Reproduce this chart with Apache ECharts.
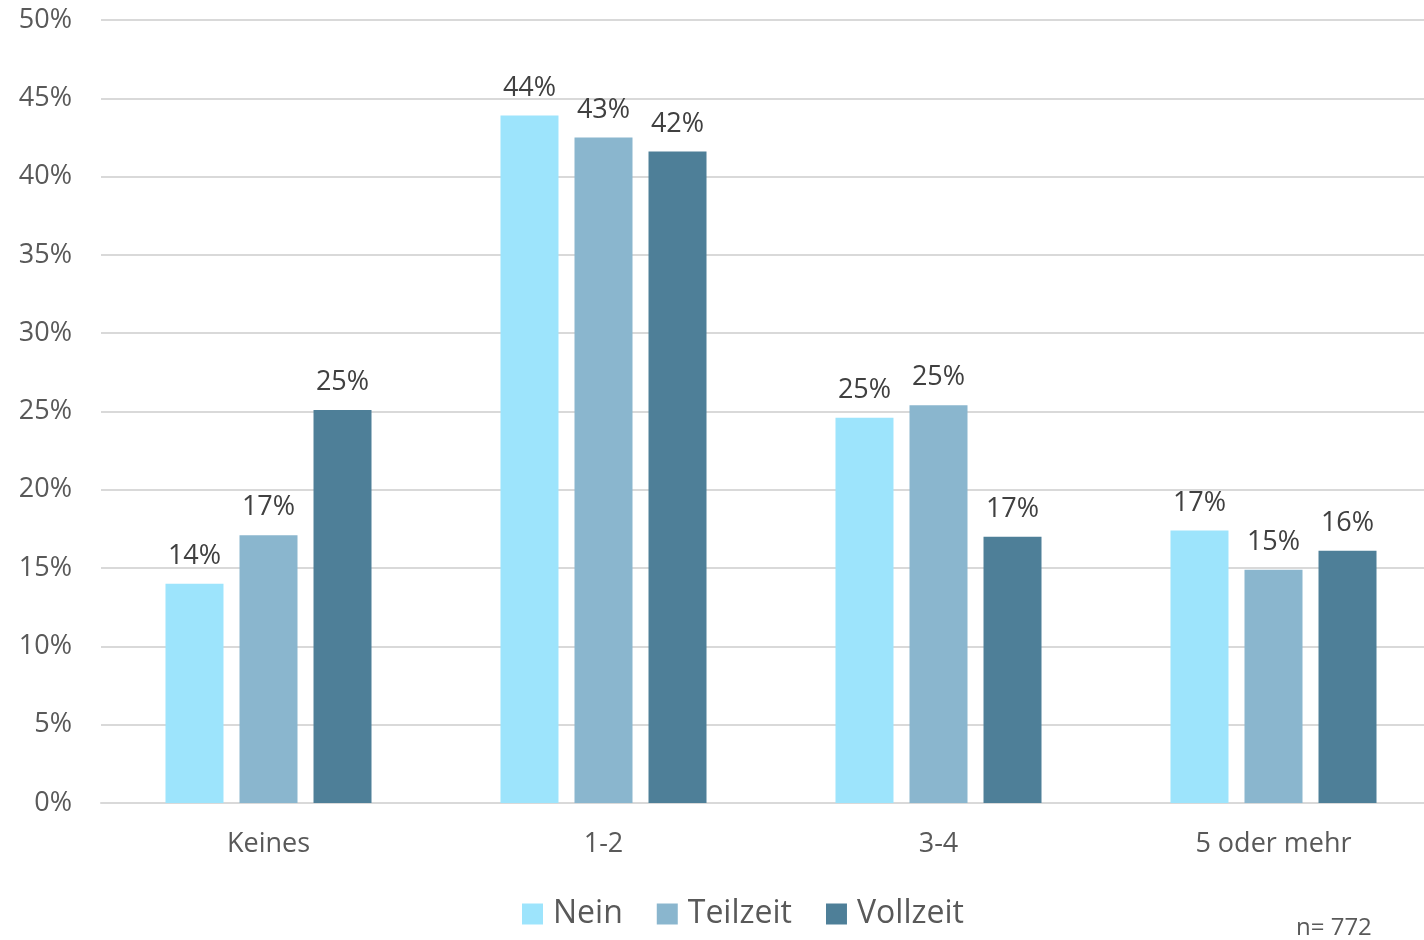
<!DOCTYPE html>
<html>
<head>
<meta charset="utf-8">
<script src="https://cdn.jsdelivr.net/npm/echarts@6/dist/echarts.min.js"></script>
<style>
html,body{margin:0;padding:0;background:#fff;}
#chart{width:1424px;height:940px;}
</style>
</head>
<body>
<div id="chart"></div>
<script>
const categories = ['Keines', '1-2', '3-4', '5 oder mehr'];
const seriesNames = ['Nein', 'Teilzeit', 'Vollzeit'];
const nein = [14.0, 43.9, 24.6, 17.4];
const teilzeit = [17.1, 42.5, 25.4, 14.9];
const vollzeit = [25.1, 41.6, 17.0, 16.1];
const colors = ['#9DE4FC', '#8AB6CE', '#4E7F98'];
const noteText = 'n= 772';

const FONT = '"Open Sans", "Liberation Sans", sans-serif';
const chart = echarts.init(document.getElementById('chart'), null, {renderer: 'canvas'});

function mkSeries(name, data, color) {
  return {
    name: name,
    type: 'bar',
    data: data,
    barWidth: 58,
    barGap: '27.6%',
    itemStyle: {color: color},
    label: {
      show: true,
      position: 'top',
      distance: 14,
      color: '#404040',
      fontFamily: FONT,
      fontSize: 27,
      formatter: p => Math.round(p.value) + '%'
    }
  };
}

chart.setOption({
  animation: false,
  backgroundColor: '#fff',
  textStyle: {fontFamily: FONT},
  grid: {left: 101, width: 1340, top: 20, bottom: 137, containLabel: false, outerBoundsMode: 'none'},
  legend: {
    data: seriesNames,
    left: 517,
    top: 893,
    icon: 'rect',
    itemWidth: 21,
    itemHeight: 21,
    itemGap: 34,
    textStyle: {color: '#595959', fontSize: 32, fontFamily: FONT, padding: [0,0,0,5]}
  },
  graphic: [{
    type: 'text',
    left: 1296,
    top: 916,
    style: {text: noteText, fill: '#595959', font: '24px ' + FONT}
  }],
  xAxis: {
    type: 'category',
    data: categories,
    axisLine: {lineStyle: {color: '#d9d9d9', width: 2}},
    axisTick: {show: false},
    axisLabel: {color: '#595959', fontSize: 27, fontFamily: FONT, margin: 28}
  },
  yAxis: {
    type: 'value',
    min: 0,
    max: 50,
    interval: 5,
    axisLine: {show: false},
    axisTick: {show: false},
    splitLine: {lineStyle: {color: '#d9d9d9', width: 2}},
    axisLabel: {color: '#595959', fontSize: 27, fontFamily: FONT, margin: 29, formatter: v => v + '%'}
  },
  series: [
    mkSeries(seriesNames[0], nein, colors[0]),
    mkSeries(seriesNames[1], teilzeit, colors[1]),
    mkSeries(seriesNames[2], vollzeit, colors[2])
  ]
});
</script>
</body>
</html>
